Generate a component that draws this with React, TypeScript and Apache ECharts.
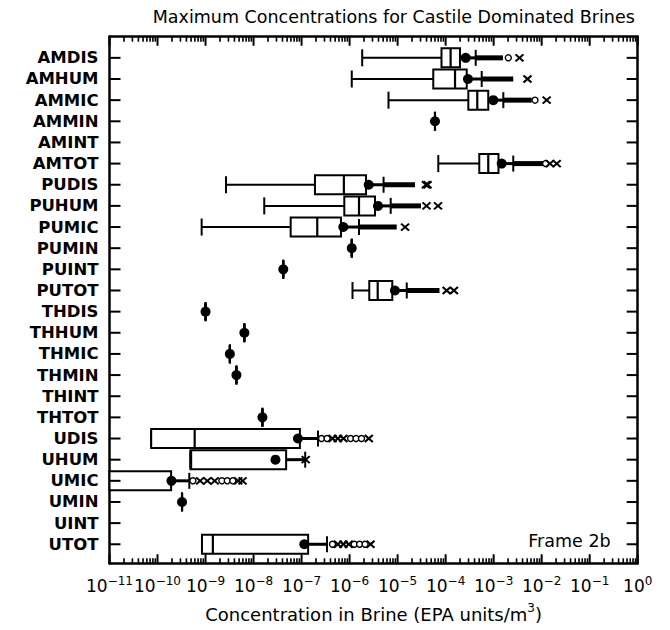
import React, { useEffect, useRef } from 'react';
import * as echarts from 'echarts';

const categories = ['AMDIS', 'AMHUM', 'AMMIC', 'AMMIN', 'AMINT', 'AMTOT', 'PUDIS', 'PUHUM', 'PUMIC', 'PUMIN', 'PUINT', 'PUTOT', 'THDIS', 'THHUM', 'THMIC', 'THMIN', 'THINT', 'THTOT', 'UDIS', 'UHUM', 'UMIC', 'UMIN', 'UINT', 'UTOT'];

const whiskerLow = [1.83e-6, 1.11e-6, 6.46e-6, 6.0e-5, null, 7.03e-5, 2.67e-9, 1.67e-8, 8.3e-10, 1.11e-6, 4.16e-8, 1.15e-6, 1.0e-9, 6.44e-9, 3.21e-9, 4.4e-9, null, 1.53e-8, 7.38e-11, 4.84e-10, 1e-12, 3.24e-10, null, 8.43e-10];
const quartile1 = [8.2e-5, 5.53e-5, 2.97e-4, 6.0e-5, null, 5.02e-4, 1.9e-7, 7.76e-7, 5.93e-8, 1.11e-6, 4.16e-8, 2.57e-6, 1.0e-9, 6.44e-9, 3.21e-9, 4.4e-9, null, 1.53e-8, 7.38e-11, 4.84e-10, 3e-12, 3.24e-10, null, 8.43e-10];
const median = [1.27e-4, 1.57e-4, 4.56e-4, 6.0e-5, null, 7.72e-4, 7.6e-7, 1.57e-6, 2.12e-7, 1.11e-6, 4.16e-8, 3.85e-6, 1.0e-9, 6.44e-9, 3.21e-9, 4.4e-9, null, 1.53e-8, 5.94e-10, 5.0e-10, 5e-12, 3.24e-10, null, 1.42e-9];
const quartile3 = [1.99e-4, 2.75e-4, 7.72e-4, 6.0e-5, null, 1.26e-3, 2.2e-6, 3.38e-6, 6.62e-7, 1.11e-6, 4.16e-8, 7.74e-6, 1.0e-9, 6.44e-9, 3.21e-9, 4.4e-9, null, 1.53e-8, 9.23e-8, 4.77e-8, 1.92e-10, 3.24e-10, null, 1.37e-7];
const whiskerHigh = [4.23e-4, 5.64e-4, 1.59e-3, 6.0e-5, null, 2.56e-3, 5.1e-6, 7.18e-6, 1.57e-6, 1.11e-6, 4.16e-8, 1.55e-5, 1.0e-9, 6.44e-9, 3.21e-9, 4.4e-9, null, 1.53e-8, 2.2e-7, 1.19e-7, 4.59e-10, 3.24e-10, null, 3.38e-7];
const meanValue = [2.62e-4, 2.92e-4, 9.84e-4, 6.0e-5, null, 1.47e-3, 2.5e-6, 3.9e-6, 7.4e-7, 1.11e-6, 4.16e-8, 8.8e-6, 1.0e-9, 6.44e-9, 3.21e-9, 4.4e-9, null, 1.53e-8, 8.41e-8, 2.86e-8, 1.95e-10, 3.24e-10, null, 1.14e-7];
// end of the dense run of outliers (drawn as a solid bar)
const outlierRunEnd = [1.56e-3, 2.56e-3, 6.19e-3, null, null, 1.08e-2, 2.3e-5, 3.07e-5, 9.57e-6, null, null, 7.45e-5, null, null, null, null, null, null, null, null, null, null, null, null];
const outlierCircles = [[2.02e-3], [], [7.26e-3], [], [], [1.21e-2], [], [], [], [], [], [], [], [], [], [], [], [], [2.61e-7, 3.4e-7, 1.05e-6, 1.36e-6, 1.77e-6], [], [5.46e-10, 2.19e-9, 2.84e-9, 3.7e-9], [], [], [4.41e-7, 1.25e-6, 1.62e-6, 2.1e-6]];
const outlierCrosses = [[3.45e-3], [5.07e-3], [1.27e-2], [], [], [1.49e-2, 2.06e-2], [3.9e-5, 4.2e-5], [4.0e-5, 6.93e-5], [1.43e-5], [], [], [1.05e-4, 1.49e-4], [], [], [], [], [], [], [4.41e-7, 5.7e-7, 7.43e-7, 2.51e-6], [1.22e-7], [7.71e-10, 1.09e-9, 1.55e-9, 4.79e-9, 5.91e-9], [], [], [5.7e-7, 7.43e-7, 9.61e-7, 2.73e-6]];

const exponents = [-11, -10, -9, -8, -7, -6, -5, -4, -3, -2, -1, 0];

const FONT = 'DejaVu Sans';
const INK = '#000';

export default function App() {
  const ref = useRef<HTMLDivElement>(null);
  useEffect(() => {
    const chart = echarts.init(ref.current as HTMLDivElement, null, { renderer: 'svg' });
    const xMin = 9.9999e-12;
    const xMax = 1.00001;
    const yMin = -1;
    const yMax = 23.9;
    const majors = exponents.map((n) => Number('1e' + n));
    const minors: number[] = [];
    exponents.slice(0, -1).forEach((n) => {
      for (let k = 2; k <= 9; k++) minors.push(Number(k + 'e' + n));
    });

    const boxData: number[][] = [];
    categories.forEach((_, i) => {
      if (quartile1[i] == null) return;
      boxData.push([
        whiskerLow[i] as number, i, quartile1[i] as number, median[i] as number,
        quartile3[i] as number, whiskerHigh[i] as number,
        (outlierRunEnd[i] ?? whiskerHigh[i]) as number,
      ]);
    });
    const meanData: number[][] = [];
    categories.forEach((_, i) => { if (meanValue[i] != null) meanData.push([meanValue[i] as number, i]); });
    const circleData: number[][] = [];
    outlierCircles.forEach((arr, i) => arr.forEach((v) => circleData.push([v, i])));
    const crossData: number[][] = [];
    outlierCrosses.forEach((arr, i) => arr.forEach((v) => crossData.push([v, i])));

    const labelFmt = (v: number) => {
      const n = Math.round(Math.log10(v));
      return n === 0 ? '10{s|0}' : '10{s|\u2212' + -n + '}';
    };

    const xBase: any = {
      type: 'log', logBase: 10, min: xMin, max: xMax,
      splitLine: { show: false }, minorTick: { show: false }, minorSplitLine: { show: false },
      axisTick: { show: false },
    };
    const frameLine = { show: true, onZero: false, lineStyle: { color: INK, width: 2.5 } };

    const yBase: any = {
      type: 'value', inverse: true, min: yMin, max: yMax, interval: 1,
      splitLine: { show: false },
      axisLine: frameLine,
      axisTick: { show: false },
    };

    const seg = (x1: number, y1: number, x2: number, y2: number, w: number) =>
      ({ type: 'line', shape: { x1, y1, x2, y2 }, style: { stroke: INK, lineWidth: w } });

    const frameText = {
      id: 'frame-label', type: 'text', x: 528.3, y: 540.6,
      style: { text: 'Frame 2b', fontFamily: FONT, fontSize: 17.5, fill: INK, align: 'left', verticalAlign: 'middle' },
    };

    const option: any = {
      animation: false,
      backgroundColor: '#fff',
      title: {
        text: 'Maximum Concentrations for Castile Dominated Brines',
        left: 152.7, top: 8, padding: 0,
        textStyle: { fontFamily: FONT, fontSize: 17.5, fontWeight: 'normal', color: INK, lineHeight: 18 },
      },
      grid: { left: 109.5, right: 32.3, top: 36.7, bottom: 66.7, containLabel: false, outerBoundsMode: 'none' },
      xAxis: [
        {
          ...xBase, position: 'bottom', axisLine: frameLine,
          axisLabel: {
            show: true, customValues: majors, formatter: labelFmt, margin: 12,
            showMinLabel: true, showMaxLabel: true, hideOverlap: false,
            fontFamily: FONT, fontSize: 17, color: INK, lineHeight: 22,
            rich: { s: { fontFamily: FONT, fontSize: 12, lineHeight: 9, verticalAlign: 'top', color: INK } },
          },
          name: 'Concentration in Brine (EPA units/m{s|3})',
          nameLocation: 'middle', nameGap: 32,
          nameTextStyle: {
            fontFamily: FONT, fontSize: 18, color: INK, lineHeight: 24,
            rich: { s: { fontFamily: FONT, fontSize: 12, lineHeight: 12, verticalAlign: 'top', color: INK } },
          },
        },
        { ...xBase, position: 'top', axisLine: frameLine, axisLabel: { show: false } },
      ],
      yAxis: [
        {
          ...yBase, position: 'left',
          axisLabel: {
            show: true, margin: 11, color: INK, fontFamily: FONT, fontSize: 16.5, fontWeight: 'bold',
            formatter: (v: number) => (Number.isInteger(v) && v >= 0 && v < categories.length ? categories[v] : ''),
          },
        },
        { ...yBase, position: 'right', axisLabel: { show: false } },
      ],
      graphic: [frameText],
      series: [
        {
          type: 'custom', xAxisIndex: 0, yAxisIndex: 0, silent: true,
          encode: { x: [0, 2, 3, 4, 5, 6], y: 1 },
          data: boxData,
          renderItem: (params: any, api: any) => {
            const cs = params.coordSys;
            const row = api.value(1);
            const X = (v: number) => {
              const p = api.coord([v, row]);
              return Math.max(cs.x, Math.min(cs.x + cs.width, p[0]));
            };
            const inRange = (v: number) => v >= xMin && v <= xMax;
            const yc = api.coord([1, row])[1];
            const half = 9.5;
            const capHalf = 8.5;
            const wl = api.value(0), a = api.value(2), md = api.value(3), b = api.value(4), wh = api.value(5), be = api.value(6);
            const children: any[] = [];
            if (wl < a) children.push(seg(X(wl), yc, X(a), yc, 2));
            if (inRange(wl)) children.push(seg(X(wl), yc - capHalf, X(wl), yc + capHalf, 2));
            if (wh > b) children.push(seg(X(b), yc, X(wh), yc, 3));
            if (be > wh) children.push(seg(X(wh), yc, X(be), yc, 5));
            children.push(seg(X(wh), yc - 8, X(wh), yc + 8, 2));
            const x1 = X(a), x2 = X(b);
            children.push({ type: 'rect', shape: { x: x1, y: yc - half, width: x2 - x1, height: 2 * half }, style: { fill: '#fff', stroke: INK, lineWidth: 2 } });
            if (inRange(md)) children.push(seg(X(md), yc - half, X(md), yc + half, 2.2));
            return { type: 'group', children };
          },
        },
        {
          type: 'scatter', xAxisIndex: 0, yAxisIndex: 0, silent: true, data: meanData,
          symbol: 'circle', symbolSize: 10, itemStyle: { color: INK, opacity: 1 },
        },
        {
          type: 'scatter', xAxisIndex: 0, yAxisIndex: 0, silent: true, data: circleData,
          symbol: 'circle', symbolSize: 6, itemStyle: { color: '#fff', borderColor: INK, borderWidth: 1.4, opacity: 1 },
        },
        {
          type: 'scatter', xAxisIndex: 0, yAxisIndex: 0, silent: true, data: crossData,
          symbol: 'path://M0 0L10 10M10 0L0 10', symbolSize: [8, 7],
          itemStyle: { color: 'none', borderColor: INK, borderWidth: 2, opacity: 1 },
        },
      ],
    };
    chart.setOption(option);

    // inside tick marks on all four sides, placed through the axes' own scales
    const toX = (v: number) => Number(chart.convertToPixel({ xAxisIndex: 0 }, v));
    const toY = (v: number) => Number(chart.convertToPixel({ yAxisIndex: 0 }, v));
    const left = toX(xMin), right = toX(xMax);
    const top = Math.min(toY(yMin), toY(yMax)), bottom = Math.max(toY(yMin), toY(yMax));
    const ticks: any[] = [];
    majors.forEach((v, k) => {
      const x = toX(v);
      ticks.push({ id: 'xmb' + k, z: 100, silent: true, ...seg(x, bottom, x, bottom - 9, 2) });
      ticks.push({ id: 'xmt' + k, z: 100, silent: true, ...seg(x, top, x, top + 9, 2) });
    });
    minors.forEach((v, k) => {
      const x = toX(v);
      ticks.push({ id: 'xnb' + k, z: 100, silent: true, ...seg(x, bottom, x, bottom - 5, 1.6) });
      ticks.push({ id: 'xnt' + k, z: 100, silent: true, ...seg(x, top, x, top + 5, 1.6) });
    });
    categories.forEach((_, i) => {
      const y = toY(i);
      ticks.push({ id: 'yl' + i, z: 100, silent: true, ...seg(left, y, left + 11, y, 2) });
      ticks.push({ id: 'yr' + i, z: 100, silent: true, ...seg(right, y, right - 11, y, 2) });
    });
    chart.setOption({ graphic: [frameText, ...ticks] });

    return () => chart.dispose();
  }, []);
  return <div ref={ref} style={{ position: 'fixed', left: 0, top: 0, width: 670, height: 630, background: '#fff' }} />;
}
